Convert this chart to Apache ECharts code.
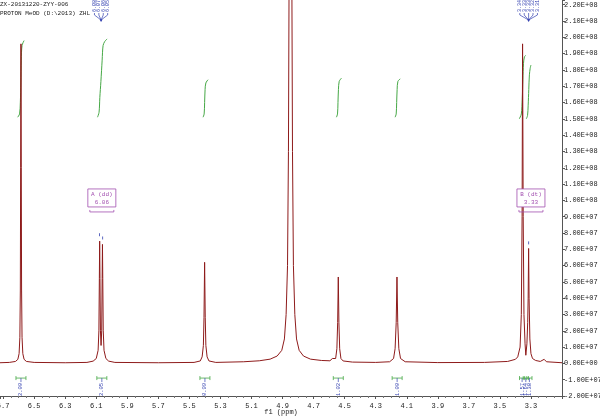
<!DOCTYPE html>
<html>
<head>
<meta charset="utf-8">
<script src="https://cdn.jsdelivr.net/npm/echarts@6/dist/echarts.min.js"></script>
<style>
  html, body { margin: 0; padding: 0; background: #fff; }
  #chart { width: 600px; height: 419px; }
</style>
</head>
<body>
<div id="chart"></div>
<script>
// 1H NMR spectrum (ppm / intensity)
var specPpm = [
  6.72, 6.66, 6.62, 6.605, 6.597, 6.592, 6.589, 6.587, 6.585, 6.583, 6.581, 6.578, 6.573, 6.565, 6.55, 6.50,
  6.30, 6.16, 6.12, 6.10, 6.088, 6.083, 6.080, 6.078, 6.076, 6.073, 6.069, 6.065, 6.062, 6.060, 6.058, 6.055,
  6.050, 6.038, 6.02, 5.98, 5.70, 5.47, 5.43, 5.418, 5.410, 5.406, 5.402, 5.398, 5.394, 5.386, 5.374, 5.33,
  5.15, 5.05, 4.98, 4.935, 4.905, 4.888, 4.877, 4.868, 4.862, 4.857, 4.853, 4.849, 4.845, 4.841, 4.836, 4.830,
  4.821, 4.810, 4.793, 4.765, 4.72, 4.65, 4.595, 4.579, 4.568, 4.558, 4.550, 4.545, 4.541, 4.537, 4.532, 4.524,
  4.51, 4.45, 4.30, 4.21, 4.185, 4.175, 4.168, 4.163, 4.158, 4.151, 4.140, 4.11, 3.90, 3.60, 3.45, 3.40,
  3.385, 3.378, 3.370, 3.362, 3.357, 3.354, 3.350, 3.345, 3.338, 3.333, 3.326, 3.321, 3.318, 3.315, 3.312, 3.307,
  3.300, 3.290, 3.27, 3.24, 3.215, 3.20, 3.10
];
var specInt = [
  0.4e6, 0.6e6, 1.2e6, 2.5e6, 6e6, 16e6, 45e6, 120e6, 196e6, 120e6, 45e6, 16e6, 6e6, 2.5e6, 1.2e6, 0.6e6,
  0.4e6, 0.6e6, 1.4e6, 3e6, 8e6, 20e6, 52e6, 75e6, 52e6, 20e6, 11e6, 20e6, 52e6, 73e6, 52e6, 20e6,
  8e6, 3e6, 1.4e6, 0.6e6, 0.4e6, 0.6e6, 1.5e6, 4e6, 11e6, 28e6, 62e6, 28e6, 11e6, 4e6, 1.5e6, 0.6e6,
  1e6, 1.6e6, 2.6e6, 4.5e6, 8e6, 15e6, 30e6, 60e6, 130e6, 260e6, 650e6, 1500e6, 650e6, 260e6, 130e6, 60e6,
  30e6, 15e6, 8e6, 4.5e6, 2.6e6, 1.8e6, 1.6e6, 3e6, 2e6, 3e6, 9e6, 25e6, 53e6, 25e6, 9e6, 3e6,
  1.5e6, 0.8e6, 0.6e6, 1e6, 3e6, 9e6, 25e6, 53e6, 25e6, 9e6, 3e6, 1e6, 0.5e6, 0.6e6, 1.2e6, 2.5e6,
  4e6, 5e6, 10e6, 30e6, 90e6, 196e6, 90e6, 30e6, 12e6, 5e6, 12e6, 25e6, 40e6, 70.5e6, 40e6, 15e6,
  6e6, 3e6, 1.8e6, 1.2e6, 2.5e6, 1e6, 0.4e6
];

// integral curves (ppm / running integral drawn on the intensity scale)
var int1Ppm = [6.606, 6.594, 6.589, 6.586, 6.583, 6.578, 6.565];
var int1Val = [1.51e8, 1.53e8, 1.60e8, 1.72e8, 1.86e8, 1.95e8, 1.98e8];
var int2Ppm = [6.092, 6.082, 6.077, 6.070, 6.062, 6.056, 6.045, 6.030];
var int2Val = [1.51e8, 1.54e8, 1.63e8, 1.73e8, 1.86e8, 1.95e8, 1.975e8, 1.99e8];
var int3Ppm = [5.412, 5.405, 5.402, 5.399, 5.394, 5.380];
var int3Val = [1.51e8, 1.53e8, 1.60e8, 1.68e8, 1.72e8, 1.74e8];
var int4Ppm = [4.553, 4.546, 4.543, 4.540, 4.535, 4.520];
var int4Val = [1.51e8, 1.53e8, 1.60e8, 1.68e8, 1.73e8, 1.75e8];
var int5Ppm = [4.175, 4.168, 4.165, 4.162, 4.157, 4.142];
var int5Val = [1.51e8, 1.53e8, 1.60e8, 1.68e8, 1.73e8, 1.745e8];
var int6Ppm = [3.375, 3.362, 3.356, 3.352, 3.348, 3.342, 3.333];
var int6Val = [1.50e8, 1.53e8, 1.62e8, 1.74e8, 1.84e8, 1.88e8, 1.89e8];
var int7Ppm = [3.330, 3.322, 3.318, 3.314, 3.310, 3.305, 3.300];
var int7Val = [1.50e8, 1.52e8, 1.58e8, 1.68e8, 1.77e8, 1.81e8, 1.83e8];

// integral labels under the baseline
var intPpm = [6.585, 6.064, 5.400, 4.541, 4.162, 3.357, 3.333, 3.310];
var intLabel = ['2.00', '2.05', '0.99', '1.02', '1.00', '1.57', '1.64', '1.38'];

// peak picks at the top
var pickAPpm = 6.069;
var pickA = ['6.08', '6.07', '6.06', '6.05'];
var pickBPpm = 3.315;
var pickB = ['3.34', '3.33', '3.33', '3.32', '3.31'];

// small pick markers above peak tops
var markPpm = [6.079, 6.059, 3.315];
var markVal = [78e6, 76e6, 73e6];

// multiplet boxes
var multPpm = [6.064, 3.300];
var multName = ['A (dd)', 'B (dt)'];
var multShift = ['6.06', '3.33'];

var titleLines = ['ZX-20131220-ZYY-006', 'PROTON MeOD (D:\\2013) ZHL'];

var FONT = 'Liberation Mono';
var RED = '#8e1b1b';
var GREEN = '#46a846';
var BLUE = '#3441b0';
var PURPLE = '#a24fb0';

function zip(a, b) {
  return a.map(function (p, i) { return [p, b[i]]; });
}

function expLabel(v) {
  var k = v / 1e7;
  if (Math.abs(k - Math.round(k)) > 1e-6) return '';
  if (Math.round(k) === 0) return '0.00E+00';
  var sign = v < 0 ? '-' : '';
  var a = Math.abs(v);
  var e = Math.floor(Math.log10(a) + 1e-9);
  var m = a / Math.pow(10, e);
  return sign + m.toFixed(2) + 'E+' + (e < 10 ? '0' + e : e);
}

var chart = echarts.init(document.getElementById('chart'));

var intSeries = [
  [int1Ppm, int1Val], [int2Ppm, int2Val], [int3Ppm, int3Val], [int4Ppm, int4Val],
  [int5Ppm, int5Val], [int6Ppm, int6Val], [int7Ppm, int7Val]
].map(function (c) {
  return {
    type: 'line',
    data: zip(c[0], c[1]),
    symbol: 'none',
    smooth: 0.3,
    lineStyle: { color: GREEN, width: 1 },
    silent: true,
    z: 3
  };
});

var option = {
  animation: false,
  backgroundColor: '#fff',
  grid: { left: 0, right: 38, top: 0, bottom: 23, outerBoundsMode: 'none', containLabel: false },
  xAxis: {
    type: 'value',
    inverse: true,
    min: 3.1,
    max: 6.72,
    interval: 0.2,
    name: 'f1 (ppm)',
    nameLocation: 'middle',
    nameGap: 13,
    nameMoveOverlap: false,
    nameTextStyle: { fontSize: 7, fontFamily: FONT, color: '#222' },
    axisLine: { onZero: false, lineStyle: { color: '#555', width: 1 } },
    axisTick: { length: 3, lineStyle: { color: '#555' } },
    minorTick: { show: true, splitNumber: 4, length: 2, lineStyle: { color: '#777' } },
    axisLabel: {
      fontSize: 7, fontFamily: FONT, color: '#222', margin: 7, hideOverlap: false,
      formatter: function (v) {
        if (Math.abs(v - 3.1) < 1e-6 || v > 6.71) return '';
        return v.toFixed(1);
      }
    },
    splitLine: { show: false }
  },
  yAxis: {
    type: 'value',
    position: 'right',
    min: -2e7,
    max: 2.229e8,
    interval: 1e7,
    axisLine: { show: true, lineStyle: { color: '#555', width: 1 } },
    axisTick: { show: true, length: 3, lineStyle: { color: '#555' } },
    axisLabel: { fontSize: 7, fontFamily: FONT, color: '#222', margin: 2, formatter: expLabel },
    splitLine: { show: false }
  },
  series: [{
    type: 'line',
    data: zip(specPpm, specInt),
    symbol: 'none',
    lineStyle: { color: RED, width: 1 },
    silent: true,
    z: 4
  }].concat(intSeries)
};
chart.setOption(option);

// annotations anchored on the data scale
function px(p, v) { return chart.convertToPixel({ gridIndex: 0 }, [p, v]); }

var g = [];
titleLines.forEach(function (t, i) {
  g.push({ type: 'text', left: 0, top: 1 + i * 9,
    style: { text: t, fontSize: 6, fontFamily: FONT, fill: '#222' } });
});

function pickGroup(ppm, labels) {
  var xc = px(ppm, 0)[0];
  var n = labels.length;
  labels.forEach(function (t, i) {
    var lx = xc + (i - (n - 1) / 2) * 4.4;
    g.push({ type: 'text', x: lx, y: 12, rotation: Math.PI / 2,
      style: { text: t, fontSize: 5, fontFamily: FONT, fill: BLUE, align: 'left', verticalAlign: 'middle' } });
    g.push({ type: 'polyline', shape: { points: [[lx, 13], [lx, 15], [xc, 20]] },
      style: { stroke: BLUE, lineWidth: 0.7, fill: null } });
  });
  g.push({ type: 'polygon', shape: { points: [[xc - 1.5, 19.5], [xc + 1.5, 19.5], [xc, 22]] },
    style: { fill: BLUE } });
}
pickGroup(pickAPpm, pickA);
pickGroup(pickBPpm, pickB);

markPpm.forEach(function (p, i) {
  var c = px(p, markVal[i]);
  g.push({ type: 'polyline', shape: { points: [[c[0], c[1] - 3], [c[0], c[1]]] },
    style: { stroke: BLUE, lineWidth: 0.8, fill: null } });
});

multPpm.forEach(function (p, i) {
  var c = px(p, 1.07e8);
  var x0 = c[0] - 14, y0 = c[1];
  g.push({ type: 'rect', shape: { x: x0, y: y0, width: 28, height: 18 },
    style: { stroke: PURPLE, fill: '#fff', lineWidth: 0.8 }, z: 10 });
  g.push({ type: 'text', x: c[0], y: y0 + 5, z: 11,
    style: { text: multName[i], fontSize: 6, fontFamily: FONT, fill: PURPLE, align: 'center', verticalAlign: 'middle' } });
  g.push({ type: 'text', x: c[0], y: y0 + 13, z: 11,
    style: { text: multShift[i], fontSize: 6, fontFamily: FONT, fill: PURPLE, align: 'center', verticalAlign: 'middle' } });
  var ly = y0 + 23;
  g.push({ type: 'polyline', z: 10, shape: { points: [[x0 + 2, ly - 2], [x0 + 2, ly], [x0 + 26, ly], [x0 + 26, ly - 2]] },
    style: { stroke: PURPLE, lineWidth: 0.8, fill: null } });
});

intPpm.forEach(function (p, i) {
  var c = px(p, -0.9e7);
  var h = i >= 5 ? 2.6 : 5;
  var x = c[0], y = c[1];
  g.push({ type: 'polyline', shape: { points: [[x - h, y - 2], [x - h, y + 2]] }, style: { stroke: GREEN, lineWidth: 0.8, fill: null } });
  g.push({ type: 'polyline', shape: { points: [[x + h, y - 2], [x + h, y + 2]] }, style: { stroke: GREEN, lineWidth: 0.8, fill: null } });
  g.push({ type: 'polyline', shape: { points: [[x - h, y], [x + h, y]] }, style: { stroke: GREEN, lineWidth: 0.8, fill: null } });
  g.push({ type: 'polyline', shape: { points: [[x, y], [x, y + 4]] }, style: { stroke: BLUE, lineWidth: 0.7, fill: null } });
  g.push({ type: 'text', x: x, y: y + 18, rotation: Math.PI / 2,
    style: { text: intLabel[i], fontSize: 5.5, fontFamily: FONT, fill: BLUE, align: 'left', verticalAlign: 'middle' } });
});

chart.setOption({ graphic: g });
</script>
</body>
</html>
